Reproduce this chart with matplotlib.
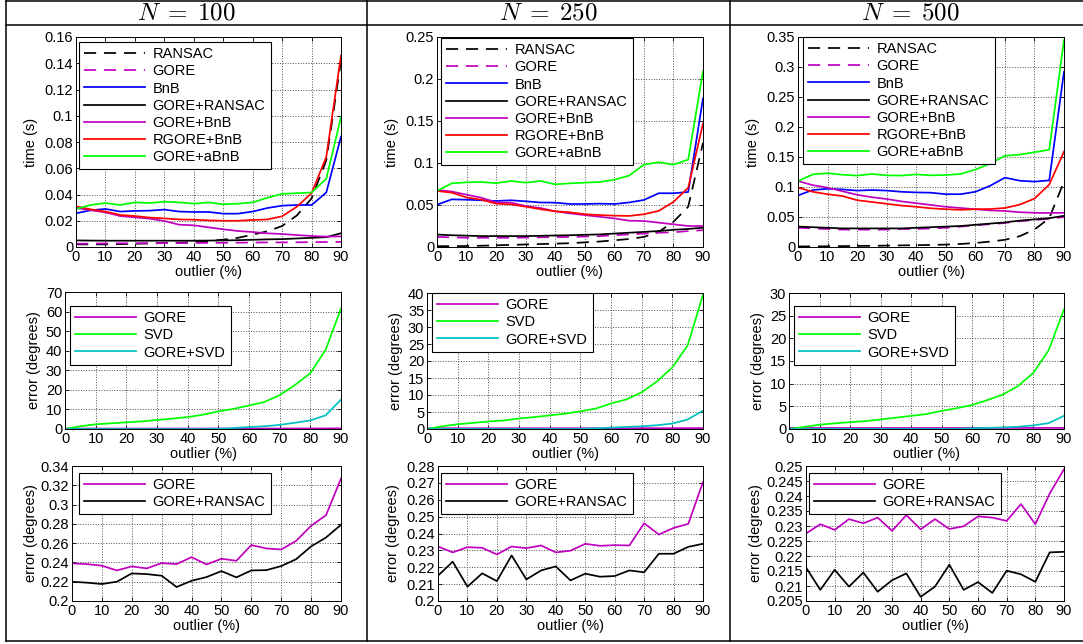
import numpy as np
import matplotlib
matplotlib.use("Agg")
import matplotlib.pyplot as plt
from matplotlib.lines import Line2D
from matplotlib.ticker import MultipleLocator, FuncFormatter

plt.rcParams["font.family"] = ["Liberation Sans", "DejaVu Sans"]
plt.rcParams["mathtext.fontset"] = "cm"

outlier = [0, 5, 10, 15, 20, 25, 30, 35, 40, 45, 50, 55, 60, 65, 70, 75, 80, 85, 90]
n_labels = [r"$N\;=\;100$", r"$N\;=\;250$", r"$N\;=\;500$"]

# ---- runtime (s) ----
t_ransac_100 = [0.002, 0.002, 0.002, 0.0022, 0.0025, 0.0027, 0.003, 0.0033, 0.0038, 0.0045, 0.0056, 0.007, 0.0094, 0.012, 0.016, 0.024, 0.037, 0.066, 0.142]
t_gore_100 = [0.0025, 0.0026, 0.0027, 0.0028, 0.0028, 0.0029, 0.003, 0.003, 0.0031, 0.0031, 0.0032, 0.0033, 0.0034, 0.0035, 0.0035, 0.0036, 0.0037, 0.0038, 0.0039]
t_bnb_100 = [0.0257, 0.028, 0.029, 0.027, 0.0275, 0.0277, 0.0285, 0.027, 0.0267, 0.0267, 0.0254, 0.0254, 0.027, 0.0297, 0.0315, 0.032, 0.032, 0.0415, 0.084]
t_gransac_100 = [0.005, 0.0049, 0.0048, 0.0048, 0.0048, 0.0048, 0.0048, 0.0048, 0.0048, 0.0049, 0.005, 0.0052, 0.0055, 0.0058, 0.006, 0.0065, 0.007, 0.0075, 0.0105]
t_gbnb_100 = [0.0297, 0.028, 0.0264, 0.0236, 0.0226, 0.0216, 0.0198, 0.017, 0.0165, 0.015, 0.0135, 0.0122, 0.0114, 0.0104, 0.0099, 0.0091, 0.0084, 0.0079, 0.0081]
t_rgbnb_100 = [0.031, 0.0287, 0.027, 0.0244, 0.0236, 0.0224, 0.0218, 0.021, 0.0208, 0.0203, 0.02, 0.02, 0.0206, 0.021, 0.0234, 0.0307, 0.041, 0.0686, 0.146]
t_gabnb_100 = [0.029, 0.032, 0.0335, 0.032, 0.034, 0.0335, 0.0345, 0.034, 0.033, 0.034, 0.0325, 0.033, 0.034, 0.0375, 0.0405, 0.041, 0.0415, 0.052, 0.099]

t_ransac_250 = [0.001, 0.001, 0.0012, 0.0015, 0.002, 0.0025, 0.003, 0.0035, 0.004, 0.0045, 0.0055, 0.0065, 0.008, 0.0095, 0.012, 0.018, 0.03, 0.048, 0.124]
t_gore_250 = [0.012, 0.0115, 0.011, 0.011, 0.011, 0.011, 0.0112, 0.0115, 0.0118, 0.012, 0.0125, 0.013, 0.014, 0.015, 0.016, 0.017, 0.0175, 0.019, 0.02]
t_bnb_250 = [0.0504, 0.0567, 0.0563, 0.0556, 0.0548, 0.0556, 0.0544, 0.053, 0.0528, 0.0512, 0.0512, 0.0516, 0.0512, 0.053, 0.056, 0.064, 0.064, 0.0655, 0.177]
t_gransac_250 = [0.0148, 0.014, 0.0135, 0.013, 0.013, 0.013, 0.013, 0.0133, 0.0137, 0.014, 0.0145, 0.015, 0.016, 0.017, 0.018, 0.019, 0.0205, 0.0215, 0.023]
t_gbnb_250 = [0.068, 0.066, 0.0623, 0.0587, 0.053, 0.0528, 0.0488, 0.0464, 0.0425, 0.04, 0.038, 0.036, 0.034, 0.0313, 0.031, 0.029, 0.027, 0.025, 0.025]
t_rgbnb_250 = [0.0667, 0.0647, 0.059, 0.0563, 0.0516, 0.0508, 0.048, 0.045, 0.0425, 0.0413, 0.039, 0.038, 0.0373, 0.037, 0.039, 0.043, 0.0536, 0.0706, 0.147]
t_gabnb_250 = [0.0667, 0.0758, 0.077, 0.0774, 0.076, 0.0786, 0.0766, 0.0786, 0.0746, 0.0758, 0.0766, 0.0774, 0.08, 0.085, 0.098, 0.101, 0.098, 0.104, 0.2095]

t_ransac_500 = [0.001, 0.001, 0.0012, 0.0015, 0.0018, 0.002, 0.0023, 0.0027, 0.003, 0.0035, 0.004, 0.005, 0.0067, 0.009, 0.012, 0.018, 0.029, 0.048, 0.109]
t_gore_500 = [0.032, 0.031, 0.03, 0.029, 0.029, 0.029, 0.029, 0.03, 0.03, 0.031, 0.032, 0.034, 0.036, 0.038, 0.04, 0.043, 0.045, 0.047, 0.05]
t_bnb_500 = [0.086, 0.095, 0.097, 0.096, 0.094, 0.095, 0.094, 0.092, 0.091, 0.0905, 0.088, 0.088, 0.092, 0.102, 0.1156, 0.1105, 0.109, 0.111, 0.292]
t_gransac_500 = [0.034, 0.033, 0.032, 0.031, 0.031, 0.031, 0.031, 0.031, 0.032, 0.033, 0.034, 0.035, 0.037, 0.039, 0.041, 0.044, 0.046, 0.048, 0.052]
t_gbnb_500 = [0.11, 0.103, 0.099, 0.093, 0.087, 0.083, 0.08, 0.076, 0.073, 0.07, 0.067, 0.065, 0.063, 0.061, 0.06, 0.058, 0.057, 0.0567, 0.057]
t_rgbnb_500 = [0.099, 0.092, 0.088, 0.085, 0.078, 0.075, 0.072, 0.069, 0.067, 0.0645, 0.063, 0.062, 0.063, 0.0633, 0.065, 0.0706, 0.0806, 0.104, 0.159]
t_gabnb_500 = [0.11, 0.121, 0.123, 0.1205, 0.119, 0.1217, 0.1194, 0.119, 0.121, 0.1194, 0.12, 0.1217, 0.129, 0.139, 0.152, 0.154, 0.158, 0.162, 0.345]

# ---- rotation error, GORE vs SVD (degrees) ----
e_gore_100 = [0.24, 0.24, 0.24, 0.23, 0.24, 0.23, 0.24, 0.24, 0.25, 0.24, 0.24, 0.24, 0.26, 0.25, 0.25, 0.26, 0.28, 0.29, 0.33]
e_svd_100 = [0.0, 1.4, 2.4, 2.9, 3.4, 3.9, 4.6, 5.3, 6.1, 7.3, 9.0, 10.3, 12.0, 13.8, 17.3, 22.5, 28.5, 40.5, 61.5]
e_gsvd_100 = [0.0, 0.0, 0.0, 0.0, 0.0, 0.0, 0.0, 0.0, 0.0, 0.0, 0.05, 0.5, 1.0, 1.4, 2.1, 3.2, 4.4, 7.0, 15.0]
e_gore_250 = [0.23, 0.23, 0.23, 0.23, 0.23, 0.23, 0.23, 0.23, 0.23, 0.23, 0.23, 0.23, 0.23, 0.23, 0.25, 0.24, 0.24, 0.25, 0.27]
e_svd_250 = [0.0, 0.8, 1.4, 1.8, 2.2, 2.5, 3.1, 3.5, 4.0, 4.5, 5.2, 6.0, 7.5, 8.7, 10.8, 14.0, 18.1, 24.6, 39.5]
e_gsvd_250 = [0.0, 0.0, 0.0, 0.0, 0.0, 0.0, 0.0, 0.0, 0.0, 0.0, 0.02, 0.2, 0.4, 0.6, 0.8, 1.1, 1.6, 2.8, 5.4]
e_gore_500 = [0.23, 0.23, 0.23, 0.23, 0.23, 0.23, 0.23, 0.23, 0.23, 0.23, 0.23, 0.23, 0.23, 0.23, 0.23, 0.24, 0.23, 0.24, 0.25]
e_svd_500 = [0.0, 0.45, 0.95, 1.25, 1.5, 1.75, 2.1, 2.5, 2.9, 3.3, 4.0, 4.6, 5.3, 6.4, 7.6, 9.5, 12.4, 17.4, 26.4]
e_gsvd_500 = [0.0, 0.0, 0.0, 0.0, 0.0, 0.0, 0.0, 0.0, 0.0, 0.0, 0.0, 0.02, 0.15, 0.25, 0.35, 0.5, 0.8, 1.3, 2.9]

# ---- rotation error, GORE vs GORE+RANSAC (degrees) ----
r_gore_100 = [0.239, 0.2383, 0.2366, 0.2317, 0.2359, 0.2338, 0.2393, 0.2383, 0.2455, 0.2379, 0.2438, 0.2417, 0.258, 0.2545, 0.2534, 0.2624, 0.278, 0.289, 0.327]
r_gransac_100 = [0.22, 0.219, 0.2176, 0.22, 0.2286, 0.2279, 0.2262, 0.2145, 0.221, 0.2248, 0.231, 0.2245, 0.2317, 0.232, 0.2362, 0.2434, 0.2566, 0.2659, 0.279]
r_gore_250 = [0.2323, 0.2288, 0.2319, 0.2315, 0.2276, 0.2323, 0.2313, 0.2329, 0.2288, 0.2298, 0.2339, 0.2327, 0.2331, 0.2329, 0.2461, 0.2394, 0.2433, 0.2457, 0.2705]
r_gransac_250 = [0.215, 0.2233, 0.2085, 0.2164, 0.2118, 0.227, 0.2128, 0.2181, 0.2205, 0.2122, 0.2162, 0.2144, 0.2148, 0.2181, 0.217, 0.228, 0.228, 0.2321, 0.2339]
r_gore_500 = [0.2275, 0.2306, 0.2287, 0.2323, 0.2309, 0.2328, 0.2284, 0.2336, 0.2289, 0.2323, 0.229, 0.2299, 0.2332, 0.2328, 0.2317, 0.2373, 0.2306, 0.2408, 0.2489]
r_gransac_500 = [0.2162, 0.2087, 0.2154, 0.2098, 0.2145, 0.2081, 0.2119, 0.2142, 0.2064, 0.2098, 0.2171, 0.2087, 0.2113, 0.2077, 0.2151, 0.2139, 0.2114, 0.2212, 0.2214]

time_names = ["RANSAC", "GORE", "BnB", "GORE+RANSAC", "GORE+BnB", "RGORE+BnB", "GORE+aBnB"]
time_styles = [("k", "--"), ("m", "--"), ("b", "-"), ("k", "-"), ("m", "-"), ("r", "-"), ("#00ff00", "-")]
time_data = [
    [t_ransac_100, t_gore_100, t_bnb_100, t_gransac_100, t_gbnb_100, t_rgbnb_100, t_gabnb_100],
    [t_ransac_250, t_gore_250, t_bnb_250, t_gransac_250, t_gbnb_250, t_rgbnb_250, t_gabnb_250],
    [t_ransac_500, t_gore_500, t_bnb_500, t_gransac_500, t_gbnb_500, t_rgbnb_500, t_gabnb_500],
]
svd_names = ["GORE", "SVD", "GORE+SVD"]
svd_styles = [("m", "-"), ("#00ff00", "-"), ("c", "-")]
svd_data = [[e_gore_100, e_svd_100, e_gsvd_100], [e_gore_250, e_svd_250, e_gsvd_250], [e_gore_500, e_svd_500, e_gsvd_500]]
rs_names = ["GORE", "GORE+RANSAC"]
rs_styles = [("m", "-"), ("k", "-")]
rs_data = [[r_gore_100, r_gransac_100], [r_gore_250, r_gransac_250], [r_gore_500, r_gransac_500]]

# axes limits / tick steps per column
time_lim = [(0, 0.16, 0.02), (0, 0.25, 0.05), (0, 0.35, 0.05)]
svd_lim = [(0, 70, 10), (0, 40, 5), (0, 30, 5)]
rs_lim = [(0.2, 0.34, 0.02), (0.2, 0.28, 0.01), (0.205, 0.25, 0.005)]

W, H = 1083, 644
fig = plt.figure(figsize=(W / 100, H / 100), dpi=100)

def px_axes(l, t, r, b):
    return fig.add_axes([l / W, 1 - b / H, (r - l) / W, (b - t) / H])

# pixel boxes (left, top, right, bottom)
boxes = [
    [(76, 37, 341, 247), (65, 292, 341, 429), (72, 466, 341, 601)],
    [(437, 37, 703, 247), (427, 293, 703, 429), (438, 466, 703, 601)],
    [(798, 37, 1064, 247), (789, 293, 1064, 429), (806, 466, 1064, 601)],
]
ylab_x = [[32, 35, 32], [393, 397, 394], [754, 759, 757]]
leg_pos = [[(79, 42), (70, 306), (79, 473)], [(441, 38), (432, 293), (441, 473)], [(803, 37), (794, 306), (809, 473)]]
fmt = FuncFormatter(lambda v, p: "%g" % round(v, 6))

def style(ax, box, lim, ylabel, ylx, lp, xlab_gap):
    l, t, r, b = box
    ax.set_xlim(0, 90)
    ax.set_ylim(lim[0], lim[1])
    ax.xaxis.set_major_locator(MultipleLocator(10))
    ax.yaxis.set_major_locator(MultipleLocator(lim[2]))
    ax.yaxis.set_major_formatter(fmt)
    ax.tick_params(direction="in", top=True, right=True, length=3, width=0.6, labelsize=10.5, pad=2)
    ax.grid(True, ls=":", color="0.3", lw=0.7)
    for s in ax.spines.values():
        s.set_linewidth(0.7)
    ax.set_xlabel("outlier (%)", fontsize=10.5)
    ax.set_ylabel(ylabel, fontsize=10.5)
    ax.yaxis.set_label_coords((ylx + 6 - l) / (r - l), 0.5)
    ax.xaxis.set_label_coords(0.5, -xlab_gap / (b - t))
    ax.legend(loc="upper left", bbox_to_anchor=((lp[0] - l) / (r - l), 1 - (lp[1] - t) / (b - t)),
              borderaxespad=0, fancybox=False, edgecolor="k", framealpha=1, fontsize=10.5,
              handlelength=4.2, handletextpad=0.5, labelspacing=0.22, borderpad=0.35).get_frame().set_linewidth(0.8)

LW = 1.25
for c in range(3):
    ax = px_axes(*boxes[c][0])
    for d, (col, ls), name in zip(time_data[c], time_styles, time_names):
        ax.plot(outlier, d, color=col, ls=ls, lw=LW, label=name, dashes=(7, 4.5) if ls == "--" else (None, None))
    style(ax, boxes[c][0], time_lim[c], "time (s)", ylab_x[c][0], leg_pos[c][0], 18)

    ax = px_axes(*boxes[c][1])
    for d, (col, ls), name in zip(svd_data[c], svd_styles, svd_names):
        ax.plot(outlier, d, color=col, ls=ls, lw=LW, label=name)
    style(ax, boxes[c][1], svd_lim[c], "error (degrees)", ylab_x[c][1], leg_pos[c][1], 18)

    ax = px_axes(*boxes[c][2])
    for d, (col, ls), name in zip(rs_data[c], rs_styles, rs_names):
        ax.plot(outlier, d, color=col, ls=ls, lw=LW, label=name)
    style(ax, boxes[c][2], rs_lim[c], "error (degrees)", ylab_x[c][2], leg_pos[c][2], 18)

# table frame
def hline(y, x0, x1):
    fig.add_artist(Line2D([x0 / W, x1 / W], [1 - y / H, 1 - y / H], color="k", lw=1.1))
def vline(x, y0, y1):
    fig.add_artist(Line2D([x / W, x / W], [1 - y0 / H, 1 - y1 / H], color="k", lw=1.1))

hline(1, 6, 1090)
hline(25, 6, 1090)
hline(641, 6, 1090)
for x in [6, 367, 730]:
    vline(x, 1, 641)
centers = [186.5, 548.5, 910]
for cx, lab in zip(centers, n_labels):
    fig.text(cx / W, 1 - 13 / H, lab, ha="center", va="center", fontsize=18)

fig.savefig("out.png", dpi=100)
